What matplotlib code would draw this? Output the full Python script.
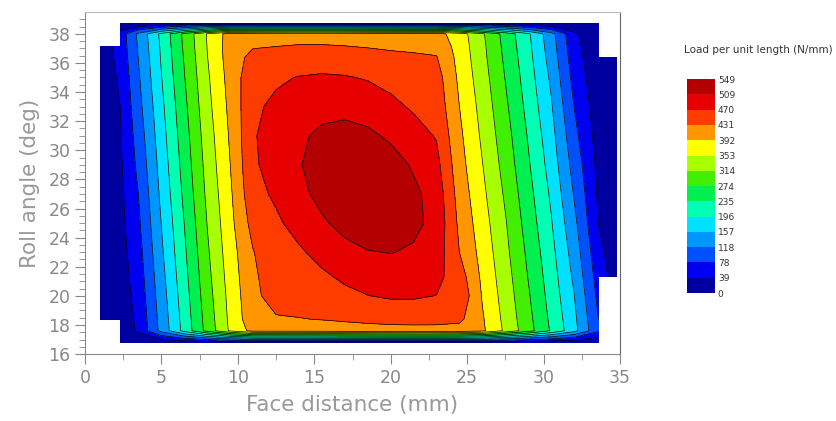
import numpy as np
import matplotlib
matplotlib.use('Agg')
import matplotlib.pyplot as plt

nan = np.nan

# face distance (mm) and roll angle (deg) of the grid
face = [1.0, 2.3, 3.5, 5, 6.5, 8, 9.5, 11, 12.5, 14, 15.5, 17, 18.5, 20, 21.5, 23, 24.5, 26, 27.5, 29, 30.5, 32, 33.6, 34.8]
roll = [16.8, 17.6, 18.4, 20, 21.3, 23, 25, 27, 29, 31, 33, 35, 36.4, 37.1, 38.0, 38.7]

# load per unit length (N/mm), one row per roll angle
load = [
    [nan, 1, 2, 6, 10, 14, 18, 20, 20, 20, 20, 20, 20, 20, 20, 20, 20, 20, 17, 15, 12, 9, 4, nan],
    [nan, 15, 45, 130, 209, 288, 359, 405, 406, 407, 409, 412, 415, 417, 418, 418, 415, 399, 346, 290, 231, 170, 83, nan],
    [0, 17, 47, 133, 212, 291, 362, 419, 428, 430, 433, 437, 441, 444, 445, 444, 440, 396, 342, 286, 227, 166, 78, nan],
    [0, 19, 53, 139, 218, 297, 366, 423, 446, 450, 456, 463, 470, 475, 475, 470, 463, 389, 336, 279, 220, 158, 68, nan],
    [0, 21, 58, 144, 223, 302, 370, 426, 449, 456, 465, 476, 485, 490, 488, 480, 451, 384, 331, 273, 215, 150, 60, 19],
    [0, 24, 64, 151, 229, 308, 375, 430, 455, 466, 481, 497, 508, 511, 505, 491, 431, 378, 324, 266, 208, 140, 50, 15],
    [0, 27, 72, 158, 236, 315, 381, 446, 465, 483, 504, 523, 534, 532, 519, 498, 423, 370, 317, 257, 199, 128, 38, 9],
    [1, 30, 79, 166, 244, 322, 386, 460, 476, 499, 522, 541, 547, 539, 518, 494, 415, 362, 308, 249, 190, 115, 33, 4],
    [4, 33, 88, 173, 251, 328, 392, 466, 484, 507, 528, 542, 541, 527, 505, 482, 407, 354, 299, 240, 180, 103, 28, 0],
    [7, 36, 96, 180, 258, 334, 397, 468, 484, 503, 518, 524, 518, 503, 485, 468, 400, 346, 291, 232, 171, 90, 22, 0],
    [11, 39, 105, 187, 265, 341, 402, 465, 477, 489, 497, 498, 491, 479, 466, 456, 392, 339, 282, 223, 161, 78, 17, 0],
    [14, 45, 113, 195, 273, 347, 407, 459, 466, 472, 475, 473, 468, 460, 453, 448, 384, 331, 273, 215, 150, 65, 12, 0],
    [16, 51, 119, 200, 278, 352, 411, 443, 448, 451, 452, 450, 446, 441, 437, 433, 379, 325, 267, 209, 141, 57, 8, 0],
    [17, 53, 122, 202, 281, 354, 412, 429, 432, 435, 435, 433, 430, 426, 424, 422, 376, 323, 264, 206, 137, 53, 6, nan],
    [nan, 56, 126, 206, 284, 356, 409, 412, 414, 415, 415, 414, 411, 409, 407, 406, 372, 319, 260, 202, 132, 47, 4, nan],
    [nan, 3, 6, 10, 14, 18, 20, 20, 20, 20, 20, 20, 20, 20, 20, 20, 18, 16, 13, 10, 6, 2, 0, nan],
]

levels = [0, 39.2, 78.4, 117.6, 156.9, 196.1, 235.3, 274.5, 313.7, 352.9, 392.1, 431.4, 470.6, 509.8, 549]
level_labels = ['0', '39', '78', '118', '157', '196', '235', '274', '314', '353', '392', '431', '470', '509', '549']
colors = ['#0000a0', '#0000f0', '#0050ff', '#0096ff', '#00e1ff', '#00ffb4', '#00f050',
          '#40f000', '#a8ff00', '#ffff00', '#ff9600', '#ff3c00', '#e60000', '#b40000']

fig = plt.figure(figsize=(8.37, 4.21), dpi=100)
ax = fig.add_axes([0.1016, 0.159, 0.6391, 0.8125])
Z = np.ma.masked_invalid(np.array(load, dtype=float))
cf = ax.contourf(face, roll, Z, levels=levels, colors=colors, corner_mask=False)
ax.contour(face, roll, Z, levels=levels[1:-1], colors='k', linewidths=0.5, corner_mask=False)

ax.set_xlim(0, 35)
ax.set_ylim(16, 39.5)
ax.set_xticks(range(0, 36, 5))
ax.set_xticks(np.arange(2.5, 35, 5), minor=True)
ax.set_yticks(range(16, 39, 2))
ax.set_yticks(np.arange(16, 39.5, 0.5), minor=True)
ax.tick_params(which='major', direction='out', length=7, color='#888888', labelcolor='#888888', labelsize=12.5)
ax.tick_params(which='minor', direction='out', length=4, color='#888888')
for side in ['left', 'bottom']:
    ax.spines[side].set_color('#888888')
ax.spines['top'].set_color('#bbbbbb')
ax.spines['right'].set_color('#666666')
ax.set_xlabel('Face distance (mm)', fontsize=15.5, color='#999999', labelpad=6)
ax.set_ylabel('Roll angle (deg)', fontsize=15.5, color='#999999', labelpad=6)

# colour key
cax = fig.add_axes([0.8208, 0.304, 0.0335, 0.508])
cb = fig.colorbar(cf, cax=cax, ticks=levels)
cb.ax.set_yticklabels(level_labels)
cb.outline.set_visible(False)
cax.tick_params(length=0, labelsize=6.5, pad=2, labelcolor='#333333')
fig.text(0.906, 0.874, 'Load per unit length (N/mm)', fontsize=7.5, ha='center', color='#333333')

fig.savefig('out.png', dpi=100)
